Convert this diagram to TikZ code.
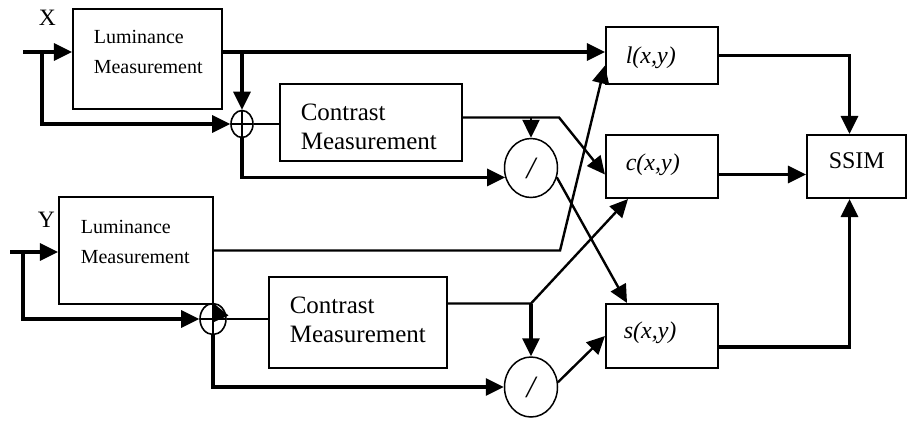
\documentclass[tikz,border=0pt]{standalone}
\usepackage{fontspec}
\setmainfont{Liberation Serif}
\usetikzlibrary{shapes.geometric}
\usetikzlibrary{arrows.meta}

\begin{document}
\begin{tikzpicture}[x=1pt,y=-1pt,>={Triangle[length=18pt,width=17pt]},
	line width=1.6pt,
	block/.style={draw,rectangle,line width=2.1pt,inner sep=0pt},
	sum node/.style={draw,ellipse,line width=1.6pt,inner sep=0pt,
		minimum width=22pt,minimum height=27pt,
		path picture={\draw[line width=1.4pt]
			(path picture bounding box.north) -- (path picture bounding box.south)
			(path picture bounding box.west) -- (path picture bounding box.east);}},
	div node/.style={draw,ellipse,line width=1.5pt,inner sep=0pt,
		minimum width=53pt,minimum height=59pt,font=\fontsize{31}{31}\selectfont\itshape},
	small text/.style={font=\fontsize{20}{30}\selectfont,align=left,inner sep=0pt,anchor=base west},
	big text/.style={font=\fontsize{25}{29}\selectfont,align=left,inner sep=0pt,anchor=base west},
	func text/.style={font=\fontsize{24}{24}\selectfont\itshape,inner sep=0pt,anchor=base west},
	heavy/.style={line width=3.2pt},
	medium/.style={line width=2.4pt}]

	\useasboundingbox (0,0) rectangle (907,421);

	% blocks
	\node[block,minimum width=149pt,minimum height=100pt] (lumX) at (147.5,59) {};
	\node[block,minimum width=154pt,minimum height=107pt] (lumY) at (136,250.5) {};
	\node[block,minimum width=182pt,minimum height=77pt] (conX) at (371,122.5) {};
	\node[block,minimum width=178pt,minimum height=91pt] (conY) at (358,322.5) {};
	\node[block,minimum width=112pt,minimum height=57pt] (lum) at (662,55.5) {};
	\node[block,minimum width=112pt,minimum height=63pt] (con) at (662,166.5) {};
	\node[block,minimum width=112pt,minimum height=64pt] (str) at (662,336) {};
	\node[block,minimum width=99pt,minimum height=63pt] (ssim) at (856.5,166.5) {};

	\node[sum node] (sumX) at (242,124) {};
	\node[sum node,minimum width=26pt,minimum height=31pt] (sumY) at (213,319) {};
	\node[div node] (divX) at (531,168) {/};
	\node[div node,minimum height=60pt] (divY) at (531,387) {/};

	% labels (base = last line)
	\node[font=\fontsize{23.5}{24}\selectfont,inner sep=0pt,anchor=base west] (nameX) at (38,25) {X};
	\node[font=\fontsize{23.5}{24}\selectfont,inner sep=0pt,anchor=base west] (nameY) at (37,227) {Y};
	\node[small text] (txtLumX) at (93,73) {Luminance\\Measurement};
	\node[small text] (txtLumY) at (80,263) {Luminance\\Measurement};
	\node[big text] (txtConX) at (300,149) {Contrast\\Measurement};
	\node[big text] (txtConY) at (289,342) {Contrast\\Measurement};
	\node[func text] (txtLum) at (625,63) {l(x,y)};
	\node[func text] (txtCon) at (625,170) {c(x,y)};
	\node[func text] (txtStr) at (623,338) {s(x,y)};
	\node[font=\fontsize{24}{24}\selectfont,inner sep=0pt,anchor=base west] (txtSsim) at (828,168) {SSIM};

	\coordinate (inX) at (23,52);
	\coordinate (brX) at (42,52);
	\coordinate (inY) at (10,252);
	\coordinate (brY) at (23,252);
	\coordinate (cxo) at ([yshift=5pt]conX.east);
	\coordinate (cyo) at ([yshift=19pt]conY.east);

	% signal X
	\draw[->,heavy] (inX) -- (inX -| lumX.west);
	\draw[->,heavy] (brX) |- (sumX.west);
	\draw[->,heavy] (inX -| lumX.east) -- (inX -| lum.west);
	\draw[->,heavy] (inX -| sumX) -- (sumX.north);
	\draw (sumX.east) -- (sumX.east -| conX.west);
	\draw[->,heavy] (sumX.south) |- (divX.200);
	\draw[->,medium] (cxo) -- ++(96,0) -- ([yshift=-8pt]con.west);
	\draw[->,medium] (cxo -| divX.north) -- (divX.north);
	\draw[->,medium] (divX.-20) -- ([xshift=-35pt]str.north);

	% signal Y
	\draw[->,heavy] (inY) -- (inY -| lumY.west);
	\draw[->,heavy] (brY) |- (sumY.west);
	\draw[->,heavy] (lumY.south east) -- (sumY.north);
	\draw[->,medium] (lumY.east) -- ++(346,0) -- ([yshift=-10pt]lum.west);
	\draw (sumY.east) -- (sumY.east -| conY.west);
	\draw[->,heavy] (sumY.south) |- (divY.west);
	\draw[->,medium] (cyo) -- (cyo -| divY.north) -- ([xshift=-34pt]con.south);
	\draw[->,heavy] (cyo -| divY.north) -- (divY.north);
	\draw[->,medium] (divY.10) -- (str.west);

	% combination
	\draw[->,heavy] (lum.east) -| ([xshift=-7pt]ssim.north);
	\draw[->,heavy] ([yshift=-8pt]con.east) -- ([yshift=-8pt]ssim.west);
	\draw[->,heavy] ([yshift=-11pt]str.east) -| ([xshift=-7pt]ssim.south);
\end{tikzpicture}
\end{document}
